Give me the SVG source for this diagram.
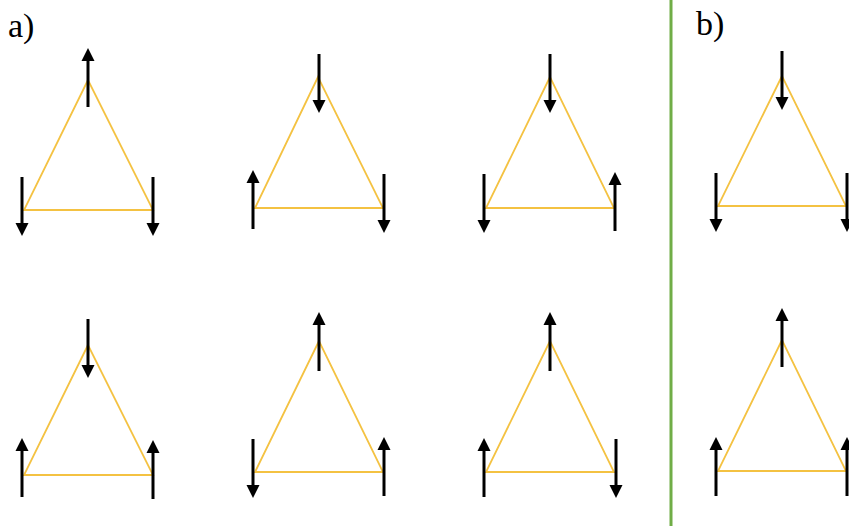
<svg xmlns="http://www.w3.org/2000/svg" xmlns:xlink="http://www.w3.org/1999/xlink" width="849" height="529" viewBox="0 0 849 529">
<style>
.tri{fill:none;stroke:#F4C242;stroke-width:1.8;stroke-linejoin:miter}
.lbl{font-family:"Liberation Serif","Times New Roman",serif;font-size:34px;fill:#000}
.shaft{stroke:#000;stroke-width:3}
</style>
<defs>
<g id="up"><line class="shaft" x1="0" y1="10" x2="0" y2="59"/><polygon points="0,0 -6.5,13 6.5,13" fill="#000"/></g>
</defs>
<rect width="849" height="529" fill="#fff"/>
<line x1="671" y1="0" x2="671" y2="526" stroke="#70AD47" stroke-width="3"/>
<text class="lbl" x="8" y="37">a)</text>
<text class="lbl" x="696" y="35">b)</text>
<g id="a1">
<polygon class="tri" points="88,80 24,210 153,210"/>
<use xlink:href="#up" transform="translate(88,48)"/>
<use xlink:href="#up" transform="translate(22,236) rotate(180)"/>
<use xlink:href="#up" transform="translate(153,236) rotate(180)"/>
</g>
<g id="a2">
<polygon class="tri" points="318,77 255,208 383,208"/>
<use xlink:href="#up" transform="translate(319,113) rotate(180)"/>
<use xlink:href="#up" transform="translate(253,170)"/>
<use xlink:href="#up" transform="translate(384,233) rotate(180)"/>
</g>
<g id="a3">
<polygon class="tri" points="550,77 486,208 614,208"/>
<use xlink:href="#up" transform="translate(550,113) rotate(180)"/>
<use xlink:href="#up" transform="translate(484,233) rotate(180)"/>
<use xlink:href="#up" transform="translate(615,172)"/>
</g>
<g id="a4">
<polygon class="tri" points="88,345 24,475 153,475"/>
<use xlink:href="#up" transform="translate(88,378) rotate(180)"/>
<use xlink:href="#up" transform="translate(22,438)"/>
<use xlink:href="#up" transform="translate(153,440)"/>
</g>
<g id="a5">
<polygon class="tri" points="319,341 255,472 383,472"/>
<use xlink:href="#up" transform="translate(319,312)"/>
<use xlink:href="#up" transform="translate(253,498) rotate(180)"/>
<use xlink:href="#up" transform="translate(384,437)"/>
</g>
<g id="a6">
<polygon class="tri" points="550,341 486,472 614,472"/>
<use xlink:href="#up" transform="translate(550,312)"/>
<use xlink:href="#up" transform="translate(484,438)"/>
<use xlink:href="#up" transform="translate(616,498) rotate(180)"/>
</g>
<g id="b1">
<polygon class="tri" points="782,76 718,206 846,206"/>
<use xlink:href="#up" transform="translate(782,110) rotate(180)"/>
<use xlink:href="#up" transform="translate(716,232) rotate(180)"/>
<use xlink:href="#up" transform="translate(847,232) rotate(180)"/>
</g>
<g id="b2">
<polygon class="tri" points="782,340 718,471 846,471"/>
<use xlink:href="#up" transform="translate(782,308)"/>
<use xlink:href="#up" transform="translate(716,437)"/>
<use xlink:href="#up" transform="translate(847,437)"/>
</g>
</svg>
